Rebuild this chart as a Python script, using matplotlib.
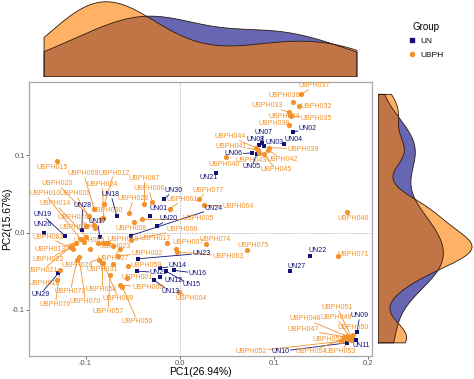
import numpy as np
import matplotlib
matplotlib.use("Agg")
import matplotlib.pyplot as plt
from matplotlib.lines import Line2D

plt.rcParams['font.family'] = ['Liberation Sans', 'DejaVu Sans']

navy = "#12127A"
orange = "#F3922B"

# UN samples (squares)
un_names = ["UN%02d" % i for i in range(1, 31)]
un_x = [-0.032, 0.120, 0.089, 0.111, 0.082, 0.077, 0.087, 0.084, 0.188, 0.177,
        0.187, -0.021, -0.027, -0.021, -0.015, -0.006, -0.085, -0.067, -0.122, -0.024,
        0.038, 0.138, -0.044, -0.052, -0.045, -0.144, 0.117, -0.104, -0.129, -0.017]
un_y = [0.022, 0.130, 0.112, 0.115, 0.102, 0.103, 0.116, 0.114, -0.129, -0.143,
        -0.139, -0.058, -0.062, -0.046, -0.050, -0.049, -0.006, 0.022, -0.004, 0.008,
        0.077, -0.030, -0.034, -0.004, -0.050, 0.000, -0.050, 0.003, -0.053, 0.043]
un_lab_x = [-0.023, 0.136, 0.101, 0.121, 0.076, 0.057, 0.089, 0.080, 0.191, 0.107,
            0.193, -0.007, -0.010, -0.002, 0.012, 0.019, -0.087, -0.073, -0.146, -0.012,
            0.031, 0.146, 0.023, 0.036, -0.022, -0.146, 0.124, -0.103, -0.148, -0.007]
un_lab_y = [0.031, 0.135, 0.116, 0.121, 0.085, 0.102, 0.130, 0.120, -0.108, -0.154,
            -0.147, -0.062, -0.077, -0.043, -0.068, -0.053, 0.014, 0.049, 0.023, 0.018,
            0.071, -0.023, -0.027, 0.031, -0.052, 0.010, -0.044, 0.035, -0.080, 0.054]

# UBPH samples (circles)
ub_names = ["UBPH%03d" % i for i in range(1, 78)]
ub_x = [-0.056, -0.066, -0.078, -0.001, -0.040, -0.029, -0.004, -0.049, -0.091, -0.105,
        -0.130, -0.080, -0.110, -0.099, -0.130, -0.095, -0.014, -0.099, -0.082, -0.096,
        -0.116, -0.114, -0.087, -0.081, -0.076, -0.090, -0.063, -0.054, -0.086, -0.084,
        -0.071, 0.127, 0.116, 0.117, 0.118, 0.120, 0.129, 0.116, 0.095, 0.049,
        0.083, 0.094, 0.084, 0.081, 0.089, 0.177, 0.174, 0.177, 0.180, 0.184,
        0.182, 0.171, 0.182, 0.173, 0.178, -0.061, -0.074, -0.083, -0.055, -0.063,
        -0.010, -0.113, -0.003, 0.026, -0.102, -0.052, -0.038, -0.081, -0.091, -0.107,
        0.168, -0.109, -0.071, 0.028, 0.071, -0.127, 0.020]
ub_y = [-0.059, -0.030, -0.013, -0.077, 0.018, 0.039, -0.021, 0.013, 0.010, -0.009,
        -0.061, 0.037, -0.013, -0.006, 0.092, -0.022, -0.014, 0.008, -0.013, 0.021,
        -0.019, -0.018, -0.014, 0.019, -0.013, 0.006, -0.021, 0.025, -0.035, 0.017,
        -0.041, 0.164, 0.156, 0.152, 0.151, 0.169, 0.179, 0.139, 0.110, 0.098,
        0.107, 0.107, 0.103, 0.110, 0.102, 0.026, -0.135, -0.134, -0.135, -0.133,
        -0.135, -0.141, -0.139, -0.138, -0.138, -0.070, -0.055, -0.039, -0.043, -0.068,
        0.031, -0.022, -0.025, 0.035, -0.012, -0.010, 0.037, -0.040, 0.031, -0.032,
        -0.030, -0.035, -0.018, -0.015, -0.023, -0.048, 0.043]
nan = np.nan
ub_lab_x = [-0.045, -0.035, nan, 0.012, 0.020, -0.033, 0.009, -0.052, -0.111, -0.143,
            -0.144, -0.070, -0.137, -0.132, -0.135, nan, -0.026, -0.111, -0.060, -0.130,
            -0.146, -0.140, -0.068, -0.082, nan, -0.113, -0.071, -0.049, -0.109, -0.077,
            -0.082, 0.145, 0.093, 0.111, 0.145, 0.111, 0.143, 0.100, 0.131, 0.047,
            0.054, 0.109, 0.076, 0.053, 0.102, 0.184, 0.131, 0.133, 0.166, 0.184,
            0.167, 0.076, 0.170, 0.139, 0.157, -0.045, -0.076, -0.083, -0.036, -0.034,
            0.003, -0.140, 0.051, 0.062, -0.096, 0.003, -0.038, -0.065, -0.102, -0.100,
            0.184, -0.116, nan, 0.038, 0.078, -0.132, 0.030]
ub_lab_y = [-0.058, -0.027, nan, -0.086, 0.018, 0.057, -0.013, 0.005, 0.050, 0.050,
            -0.066, 0.077, -0.022, 0.037, 0.084, nan, -0.008, 0.006, -0.009, 0.063,
            -0.049, -0.035, -0.018, 0.062, nan, 0.019, -0.034, 0.044, -0.043, 0.028,
            -0.048, 0.163, 0.164, 0.150, 0.148, 0.177, 0.190, 0.141, 0.108, 0.088,
            0.112, 0.094, 0.093, 0.124, 0.081, 0.018, -0.126, -0.112, -0.110, -0.123,
            -0.097, -0.154, -0.154, -0.154, -0.139, -0.115, -0.102, -0.074, -0.043, -0.071,
            0.043, -0.006, -0.031, 0.034, -0.010, 0.004, 0.070, -0.086, 0.076, -0.089,
            -0.028, -0.076, nan, -0.009, -0.017, -0.093, 0.054]

xlim = (-0.160, 0.204)
ylim = (-0.160, 0.195)


def kde(values, grid, adjust=1.0):
    # gaussian density, bandwidth like R's bw.nrd0
    v = np.asarray(values)
    n = len(v)
    sd = v.std(ddof=1)
    iqr = np.subtract(*np.percentile(v, [75, 25]))
    bw = adjust * 0.9 * min(sd, iqr / 1.34) * n ** -0.2
    z = (grid[:, None] - v[None, :]) / bw
    return np.exp(-0.5 * z ** 2).sum(1) / (n * bw * np.sqrt(2 * np.pi))


fig = plt.figure(figsize=(4.74, 3.79), dpi=100)
ax = fig.add_axes([29 / 474, 23 / 379, 343 / 474, 274 / 379])
ax_top = fig.add_axes([29 / 474, 302 / 379, 343 / 474, 76 / 379])
ax_right = fig.add_axes([378 / 474, 23 / 379, 95 / 474, 274 / 379])

ax.set_xlim(*xlim)
ax.set_ylim(*ylim)
ax.axvline(0, color="#b0b0b0", lw=0.6, ls=(0, (1.5, 1.5)), zorder=0)
ax.axhline(0, color="#b0b0b0", lw=0.6, ls=(0, (1.5, 1.5)), zorder=0)

ax.scatter(un_x, un_y, marker="s", s=12, color=navy, zorder=3, linewidths=0)
ax.scatter(ub_x, ub_y, marker="o", s=14, color=orange, zorder=3, linewidths=0)

texts = []
for names, xs, ys, lxs, lys, col in [
        (un_names, un_x, un_y, un_lab_x, un_lab_y, navy),
        (ub_names, ub_x, ub_y, ub_lab_x, ub_lab_y, orange)]:
    for nm, px, py, lx, ly in zip(names, xs, ys, lxs, lys):
        if np.isnan(lx):
            continue
        t = ax.text(lx, ly, nm, fontsize=5, color=col, ha="center", va="center",
                    zorder=4, clip_on=True)
        texts.append((t, px, py, col))

# label segments, point -> edge of label box
renderer = fig.canvas.get_renderer()
inv = ax.transData.inverted()
for t, px, py, col in texts:
    bb = t.get_window_extent(renderer)
    cx, cy = (bb.x0 + bb.x1) / 2, (bb.y0 + bb.y1) / 2
    hw, hh = bb.width / 2 + 1, bb.height / 2 + 0.5
    p = ax.transData.transform((px, py))
    dx, dy = p[0] - cx, p[1] - cy
    f = min(hw / abs(dx) if dx else np.inf, hh / abs(dy) if dy else np.inf)
    if f >= 1:
        continue
    e = (cx + f * dx, cy + f * dy)
    if np.hypot(p[0] - e[0], p[1] - e[1]) < 5:
        continue
    pts = inv.transform([p, e])
    ax.plot(pts[:, 0], pts[:, 1], color=col, lw=0.6, zorder=2)

ax.set_xticks([-0.1, 0.0, 0.1, 0.2])
ax.set_xticklabels(["-0.1", "0.0", "0.1", "0.2"])
ax.set_yticks([-0.1, 0.0, 0.1])
ax.set_yticklabels(["-0.1", "0.0", "0.1"])
ax.tick_params(labelsize=5.5, colors="#555555", length=2, width=0.6, pad=1)
for s in ax.spines.values():
    s.set_color("#a8a8a8")
    s.set_linewidth(0.9)
ax.set_xlabel("PC1(26.94%)", fontsize=7.5, labelpad=0)
ax.set_ylabel("PC2(15.67%)", fontsize=7.5, labelpad=0)

# marginal densities
all_x = np.r_[un_x, ub_x]
all_y = np.r_[un_y, ub_y]
gx = np.linspace(all_x.min(), all_x.max(), 512)
gy = np.linspace(all_y.min(), all_y.max(), 512)
dx_un, dx_ub = kde(un_x, gx, 1.25), kde(ub_x, gx, 1.25)
dy_un, dy_ub = kde(un_y, gy), kde(ub_y, gy)

for d, col in [(dx_un, "#000080"), (dx_ub, "#FF8000")]:
    ax_top.fill(np.r_[gx[0], gx, gx[-1]], np.r_[0, d, 0], facecolor=col, alpha=0.6,
                edgecolor="none")
    ax_top.plot(np.r_[gx[0], gx, gx[-1], gx[0]], np.r_[0, d, 0, 0], color="#2a1a10", lw=0.6)
ax_top.set_xlim(*xlim)
ax_top.set_ylim(0, max(dx_un.max(), dx_ub.max()) * 1.01)
ax_top.axis("off")

for d, col in [(dy_un, "#000080"), (dy_ub, "#FF8000")]:
    ax_right.fill(np.r_[0, d, 0], np.r_[gy[0], gy, gy[-1]], facecolor=col, alpha=0.6,
                  edgecolor="none")
    ax_right.plot(np.r_[0, d, 0, 0], np.r_[gy[0], gy, gy[-1], gy[0]], color="#2a1a10", lw=0.6)
ax_right.set_ylim(*ylim)
ax_right.set_xlim(0, max(dy_un.max(), dy_ub.max()) * 1.01)
ax_right.axis("off")

handles = [Line2D([], [], marker="s", ls="", color=navy, markersize=3),
           Line2D([], [], marker="o", ls="", color=orange, markersize=3)]
fig.legend(handles, ["UN", "UBPH"], title="Group", loc="upper left",
           bbox_to_anchor=(400 / 474, 1 - 14 / 379), frameon=False, fontsize=6,
           title_fontsize=7, handletextpad=0.6, labelspacing=0.7, handlelength=1.0)

fig.savefig("out.png", dpi=100)
